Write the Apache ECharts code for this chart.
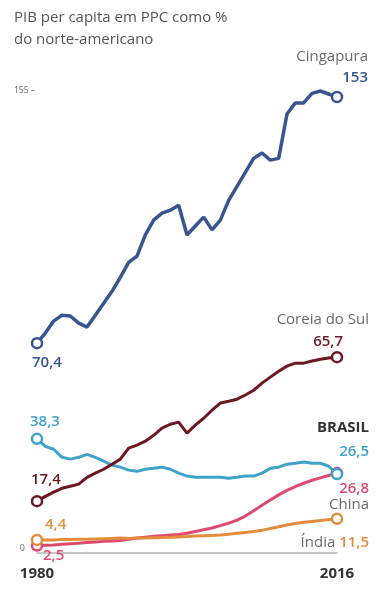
<!DOCTYPE html>
<html>
<head>
<meta charset="utf-8">
<script src="https://cdn.jsdelivr.net/npm/echarts@6/dist/echarts.min.js"></script>
<style>
html,body{margin:0;padding:0;background:#fff;}
#c{width:381px;height:593px;}
</style>
</head>
<body>
<div id="c"></div>
<script>
// ---- data ----
const years = [];
for (let y = 1980; y <= 2016; y++) years.push(y);

const singapura = [70.4,73.8,77.8,79.8,79.5,77.1,75.8,79.8,83.8,87.8,92.5,97.5,99.6,106.7,111.7,114.0,115.0,116.7,106.7,109.7,112.7,108.4,111.7,118.3,123.0,127.7,132.4,134.2,131.8,132.4,147.3,151.0,151.0,154.2,155.0,154.0,153.0];
const coreia = [17.4,19.0,20.4,21.7,22.4,23.1,25.4,26.8,28.1,29.8,31.5,35.2,36.2,37.5,39.5,41.9,43.2,43.9,40.2,42.9,45.2,47.9,50.3,50.9,51.6,53.0,54.6,57.0,59.0,61.0,62.7,63.7,63.7,64.4,65.0,65.4,65.7];
const brasil = [38.3,35.8,34.8,32.1,31.5,32.1,33.1,32.1,30.8,29.5,28.8,27.8,27.4,28.1,28.4,28.8,28.1,26.8,25.8,25.4,25.4,25.4,25.4,25.1,25.4,25.8,25.8,26.8,28.4,28.8,29.8,30.1,30.5,30.1,30.1,29.1,26.5];
const china = [2.5,2.6,2.7,2.9,3.1,3.3,3.5,3.7,3.9,4.0,4.2,4.6,5.0,5.3,5.6,5.8,6.0,6.2,6.6,7.2,7.8,8.4,9.2,10.0,11.0,12.4,14.2,16.0,17.8,19.5,21.0,22.3,23.4,24.4,25.2,26.0,26.8];
const india = [4.4,4.4,4.4,4.5,4.5,4.6,4.6,4.7,4.8,4.9,5.0,4.9,5.0,5.0,5.1,5.2,5.3,5.4,5.5,5.7,5.8,5.9,6.0,6.3,6.6,6.9,7.2,7.6,8.2,8.8,9.4,9.9,10.3,10.6,10.9,11.2,11.5];

const yTicks = [0, 155];
const xTicks = [1980, 2016];

const names = {
  singapura: 'Cingapura',
  coreia: 'Coreia do Sul',
  brasil: 'BRASIL',
  china: 'China',
  india: 'Índia'
};
const fmt = v => String(v).replace('.', ',');

// ---- styles ----
const FONT = '"Open Sans", "Noto Sans", sans-serif';
const FS = 15;
const C = {
  singapura: '#39558f',
  coreia: '#6c1820',
  brasil: '#3ea2c9',
  china: '#dc4a70',
  india: '#e48c3e',
  name: '#6a6a6a'
};

function mkData(vals, startLabel, endLabel) {
  const n = vals.length;
  return vals.map((v, i) => {
    const item = { value: [years[i], v] };
    if (i === 0 && startLabel) item.label = startLabel;
    if (i === n - 1 && endLabel) item.label = endLabel;
    return item;
  });
}

function lbl(text, color, align, ox, oy, extra) {
  return Object.assign({
    show: true, position: 'inside', formatter: text,
    align: align, verticalAlign: 'middle', offset: [ox, oy],
    color: color, fontFamily: FONT, fontSize: FS, fontWeight: 600
  }, extra || {});
}

function series(key, vals, width, startLabel, endLabel, z) {
  const n = vals.length;
  return {
    type: 'line', name: names[key], z: z,
    data: mkData(vals, startLabel, endLabel),
    clip: false,
    showSymbol: true, showAllSymbol: true,
    symbol: 'circle',
    symbolSize: (v, p) => (p.dataIndex === 0 || p.dataIndex === n - 1) ? 10 : 0,
    itemStyle: { color: '#fff', borderColor: C[key], borderWidth: 2.5 },
    lineStyle: { color: C[key], width: width },
    label: { show: false },
    emphasis: { disabled: true },
    animation: false
  };
}

const nameStyle = { color: C.name, fontFamily: FONT, fontSize: FS, fontWeight: 'normal', lineHeight: 21 };
const valStyle = (col, lh, extra) => Object.assign({ color: col, fontFamily: FONT, fontSize: FS, fontWeight: 600, lineHeight: lh }, extra || {});

const chart = echarts.init(document.getElementById('c'), null, { renderer: 'canvas' });
chart.setOption({
  animation: false,
  backgroundColor: '#fff',
  title: {
    text: 'PIB per capita em PPC como %\ndo norte-americano',
    left: 9, top: 2,
    textStyle: { fontFamily: FONT, fontSize: 15, fontWeight: 'normal', color: '#555', lineHeight: 22 }
  },
  grid: { left: 37, right: 44, top: 91, bottom: 40, containLabel: false },
  xAxis: {
    type: 'value', min: xTicks[0], max: xTicks[1], interval: xTicks[1] - xTicks[0],
    axisLine: { show: true, lineStyle: { color: '#b5b5b5', width: 1.5 } },
    axisTick: { show: false },
    splitLine: { show: false },
    axisLabel: {
      margin: 13, color: '#333', fontFamily: FONT, fontSize: 15, fontWeight: 'bold',
      formatter: v => String(v)
    }
  },
  yAxis: {
    type: 'value', min: yTicks[0], max: yTicks[1], interval: yTicks[1] - yTicks[0],
    axisLine: { show: false }, axisTick: { show: false }, splitLine: { show: false },
    axisLabel: {
      margin: 2,
      formatter: v => v === yTicks[1] ? '{a|' + v + ' –}' : '{b|' + v + '}',
      rich: {
        a: { fontFamily: FONT, fontSize: 8.5, color: '#666' },
        b: { fontFamily: FONT, fontSize: 9, color: '#666', padding: [0, 10, 10, 0] }
      }
    }
  },
  series: [
    series('china', china, 3,
      lbl(fmt(china[0]), C.china, 'left', 6, 10),
      lbl('{v|' + fmt(china[china.length - 1]) + '}\n{n|' + names.china + '}', C.china, 'right', 32, 24,
        { rich: { v: valStyle(C.china, 16), n: Object.assign({}, nameStyle, { lineHeight: 16 }) } }),
      2),
    series('india', india, 3,
      lbl(fmt(india[0]), C.india, 'left', 8, -15),
      lbl('{n|' + names.india + '} {v|' + fmt(india[india.length - 1]) + '}', C.india, 'right', 32, 24,
        { rich: { v: valStyle(C.india, 18), n: nameStyle } }),
      3),
    series('brasil', brasil, 3,
      lbl(fmt(brasil[0]), C.brasil, 'left', -7, -17),
      lbl('{n|' + names.brasil + '}\n{v|' + fmt(brasil[brasil.length - 1]) + '}', C.brasil, 'right', 32, -34,
        { rich: { v: valStyle(C.brasil, 24), n: { color: '#333', fontFamily: FONT, fontSize: FS, fontWeight: 'bold', lineHeight: 24 } } }),
      4),
    series('coreia', coreia, 3,
      lbl(fmt(coreia[0]), C.coreia, 'left', -6, -21),
      lbl('{n|' + names.coreia + '}\n{v|' + fmt(coreia[coreia.length - 1]) + '}', C.coreia, 'right', 32, -26,
        { rich: { v: valStyle(C.coreia, 22, { padding: [0, 26, 0, 0] }), n: Object.assign({}, nameStyle, { lineHeight: 22 }) } }),
      5),
    series('singapura', singapura, 3.5,
      lbl(fmt(singapura[0]), C.singapura, 'left', -5, 20),
      lbl('{n|' + names.singapura + '}\n{v|' + fmt(singapura[singapura.length - 1]) + '}', C.singapura, 'right', 31, -30,
        { rich: { v: valStyle(C.singapura, 21), n: nameStyle } }),
      6)
  ]
});
</script>
</body>
</html>
